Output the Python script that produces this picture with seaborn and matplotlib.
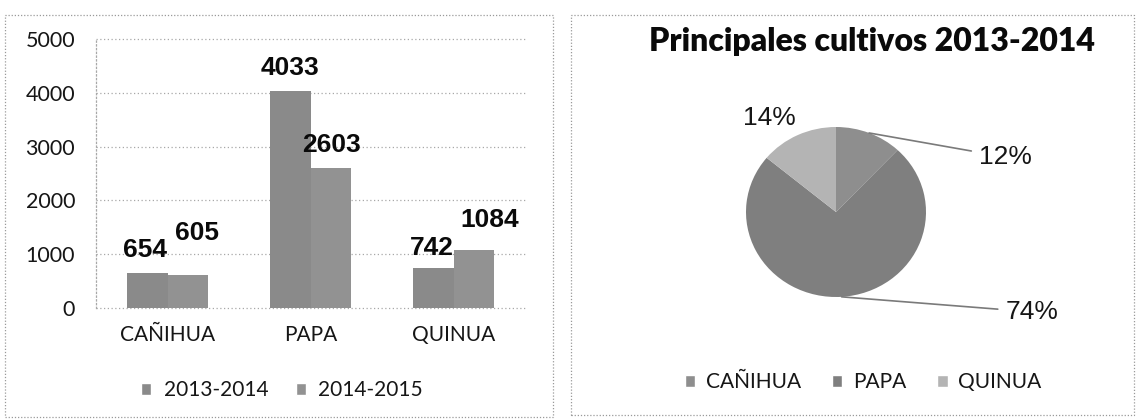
import matplotlib
matplotlib.use("Agg")
import matplotlib.pyplot as plt
from matplotlib.patches import Rectangle, Patch
import numpy as np
import pandas as pd
import seaborn as sns

# ---- data -------------------------------------------------------------
cultivos = ["CAÑIHUA", "PAPA", "QUINUA"]
campanas = ["2013-2014", "2014-2015"]
prod_2013_2014 = [654, 4033, 742]
prod_2014_2015 = [605, 2603, 1084]
y_ticks = [0, 1000, 2000, 3000, 4000, 5000]

pie_labels = ["CAÑIHUA", "PAPA", "QUINUA"]
pie_shares = [12, 74, 14]
pie_title = "Principales cultivos 2013-2014"

# ---- styling ----------------------------------------------------------
bar_colors = ["#8a8a8a", "#929292"]
pie_colors = ["#8e8e8e", "#7f7f7f", "#b4b4b4"]
grid_color = "#a8a8a8"
text_color = "#161616"

# value-label nudges in pixels (dx, dy) from the top centre of each bar
bar_label_nudges = [
    [(-2, 23), (0, 23), (-1, 20)],
    [(9, 42), (1, 23), (16, 30)],
]
# percentage-label nudges in pixels from the wedge rim, and leader flags
pie_label_nudges = [(136, -24), (190, -15), (-28, 17)]
pie_leaders = [True, True, False]

W, H = 1136, 419


def fx(x):
    return x / W


def fy(y):
    return 1 - y / H


sns.set_theme(style="white")
plt.rcParams["font.family"] = ["Lato", "DejaVu Sans"]
plt.rcParams["text.color"] = text_color

fig = plt.figure(figsize=(W / 100, H / 100), dpi=100)
fig.patch.set_facecolor("white")

# ---- panel frames -----------------------------------------------------
for (x0, y0, x1, y1) in [(5, 15, 553, 417), (571, 15, 1134, 415)]:
    fig.add_artist(Rectangle((fx(x0), fy(y1)), (x1 - x0) / W, (y1 - y0) / H,
                             transform=fig.transFigure, fill=False,
                             ls=(0, (1, 1.5)), ec="#9a9a9a", lw=0.9))

# ---- grouped bar chart ------------------------------------------------
ax = fig.add_axes([fx(96), fy(308), 429 / W, 269 / H])
df = pd.DataFrame({
    "cultivo": cultivos * 2,
    "campaña": [c for c in campanas for _ in cultivos],
    "valor": prod_2013_2014 + prod_2014_2015,
})
sns.barplot(data=df, x="cultivo", y="valor", hue="campaña", order=cultivos,
            hue_order=campanas, palette=bar_colors, width=0.566, saturation=1,
            errorbar=None, legend=False, ax=ax, zorder=2, linewidth=0)
ax.set_ylim(0, 5000)
ax.set_xlim(-0.5, 2.5)
ax.set_yticks(y_ticks)
ax.set_xlabel("")
ax.set_ylabel("")
ax.set_facecolor("white")
ax.yaxis.grid(True, ls=(0, (1, 2)), color=grid_color, lw=0.9)
for gl in ax.get_ygridlines():
    gl.set_clip_on(False)
ax.xaxis.grid(False)
ax.set_axisbelow(True)
for side in ["top", "right", "bottom"]:
    ax.spines[side].set_visible(False)
ax.spines["left"].set_linestyle((0, (1, 2)))
ax.spines["left"].set_color(grid_color)
ax.spines["left"].set_linewidth(0.9)
ax.tick_params(axis="y", length=0, pad=15, labelsize=15.5, labelcolor=text_color)
ax.tick_params(axis="x", length=0, pad=12, labelsize=15, labelcolor=text_color)

for container, nudges in zip(ax.containers, bar_label_nudges):
    for bar, (dx, dy) in zip(container, nudges):
        h = bar.get_height()
        ax.annotate(f"{int(round(h))}", (bar.get_x() + bar.get_width() / 2, h),
                    xytext=(dx, dy), textcoords="offset pixels",
                    ha="center", va="center", fontsize=19, fontweight="bold",
                    family=["Liberation Sans", "DejaVu Sans"], color="#0a0a0a",
                    zorder=5)

fig.legend([Patch(facecolor=c) for c in bar_colors], campanas, loc="center",
           bbox_to_anchor=(fx(282), fy(390)), ncol=2, frameon=False,
           fontsize=15, handlelength=0.5, handleheight=0.5,
           handletextpad=0.6, columnspacing=1.3)

# ---- pie chart --------------------------------------------------------
pax = fig.add_axes([fx(836 - 90), fy(297), 180 / W, 170 / H])
wedges, _ = pax.pie(pie_shares, colors=pie_colors, startangle=90,
                    counterclock=False, wedgeprops=dict(linewidth=0))
pax.set_aspect("auto")
pax.set_xlim(-1, 1)
pax.set_ylim(-1, 1)

for w, share, (dx, dy), leader in zip(wedges, pie_shares, pie_label_nudges,
                                      pie_leaders):
    ang = np.deg2rad((w.theta1 + w.theta2) / 2)
    rim = (np.cos(ang), np.sin(ang))
    kw = dict(xytext=(dx, dy), textcoords="offset pixels", ha="center",
              va="center", fontsize=19,
              family=["Liberation Sans", "DejaVu Sans"], color=text_color,
              annotation_clip=False)
    if leader:
        kw["arrowprops"] = dict(arrowstyle="-", color="#7a7a7a", lw=1.2,
                                shrinkA=3, shrinkB=0)
    pax.annotate(f"{share}%", rim, **kw)

fig.text(fx(872), fy(42), pie_title, ha="center", va="center", fontsize=23,
         fontweight="heavy", color="#0a0a0a")

fig.legend([Patch(facecolor=c) for c in pie_colors], pie_labels, loc="center",
           bbox_to_anchor=(fx(863), fy(382)), ncol=3, frameon=False,
           fontsize=15, handlelength=0.5, handleheight=0.5,
           handletextpad=0.5, columnspacing=1.5)

fig.savefig("out.png", dpi=100)
